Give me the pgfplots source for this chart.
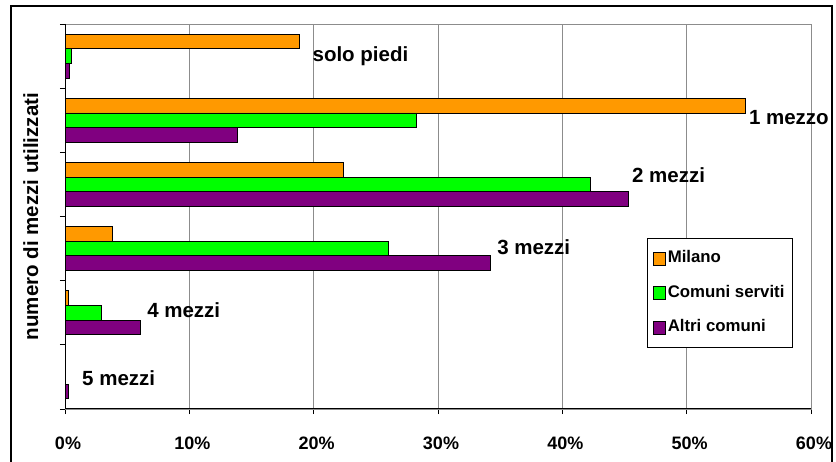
\documentclass[border=0pt]{standalone}
\usepackage{pgfplots}
\pgfplotsset{compat=1.18}
\usepackage{fontspec}
\setmainfont{Liberation Sans}
\definecolor{milano}{RGB}{255,153,0}
\definecolor{comuni}{RGB}{0,255,0}
\definecolor{altri}{RGB}{128,0,128}
\definecolor{gridgray}{RGB}{140,140,140}
\newcommand{\catfont}{\fontsize{20.5bp}{20.5bp}\selectfont\bfseries}
\begin{document}
\begin{tikzpicture}
\useasboundingbox (0bp,0bp) rectangle (836bp,462bp);
\fill[white] (0bp,0bp) rectangle (836bp,462bp);
\draw[black, line width=1.2bp] (11bp,-10bp) -- (11bp,456bp) -- (832bp,456bp) -- (832bp,-10bp);
\begin{axis}[
  at={(65bp,53bp)}, anchor=south west,
  scale only axis, width=746bp, height=385bp,
  clip=false,
  xbar=0pt, bar width=14.6bp,
  xmin=0, xmax=60, ymin=-0.5, ymax=5.5,
  xtick={0,10,...,60}, ytick={-0.5,0.5,...,5.5}, yticklabels={},
  xticklabel={\pgfmathprintnumber{\tick}\%},
  /pgf/number format/assume math mode=true,
  xticklabel style={font=\fontsize{18bp}{18bp}\selectfont\bfseries, anchor=center, yshift=-29bp, xshift=3bp},
  tick pos=left, tick align=outside, major tick length=5bp,
  tick style={black, line width=0.8bp},
  xmajorgrids, major grid style={gridgray, line width=0.8bp},
  axis line style={gridgray, line width=0.8bp},
  ylabel={numero di mezzi utilizzati},
  ylabel style={font=\catfont, at={(axis description cs:-0.046,0.5)}, anchor=center},
  legend style={at={(axis description cs:0.780,0.444)}, anchor=north west,
    draw=black, line width=0.8bp, font=\fontsize{16.8bp}{16.8bp}\selectfont\bfseries,
    inner xsep=6bp, inner ysep=10.5bp, row sep=15.5bp,
    nodes={inner sep=2bp, text height=12bp, text depth=3bp}},
  legend cell align=left,
  legend image code/.code={\draw[#1, draw=black, line width=0.8bp] (0bp,-6.5bp) rectangle (11.7bp,6.5bp);},
  every axis plot/.append style={draw=black, line width=0.9bp},
]
\addplot[fill=milano, bar shift=14.6bp] coordinates {(18.85,5) (54.7,4) (22.4,3) (3.8,2) (0.27,1) (0,0)};
\addplot[fill=comuni, bar shift=0bp] coordinates {(0.5,5) (28.3,4) (42.3,3) (26.0,2) (2.95,1) (0,0)};
\addplot[fill=altri, bar shift=-14.6bp] coordinates {(0.38,5) (13.9,4) (45.3,3) (34.2,2) (6.1,1) (0.27,0)};
\legend{Milano, Comuni serviti, Altri comuni}
\node[anchor=west, font=\catfont, inner sep=0pt] at (axis cs:19.9,5.0) {solo piedi};
\node[anchor=west, font=\catfont, inner sep=0pt] at (axis cs:55.0,4.035) {1 mezzo};
\node[anchor=west, font=\catfont, inner sep=0pt] at (axis cs:45.6,3.147) {2 mezzi};
\node[anchor=west, font=\catfont, inner sep=0pt] at (axis cs:34.75,2.025) {3 mezzi};
\node[anchor=west, font=\catfont, inner sep=0pt] at (axis cs:6.6,1.043) {4 mezzi};
\node[anchor=west, font=\catfont, inner sep=0pt] at (axis cs:1.37,-0.017) {5 mezzi};
\end{axis}
\draw[black, line width=1bp] (65bp,438bp) -- (65bp,53bp) -- (811bp,53bp);
\end{tikzpicture}
\end{document}
